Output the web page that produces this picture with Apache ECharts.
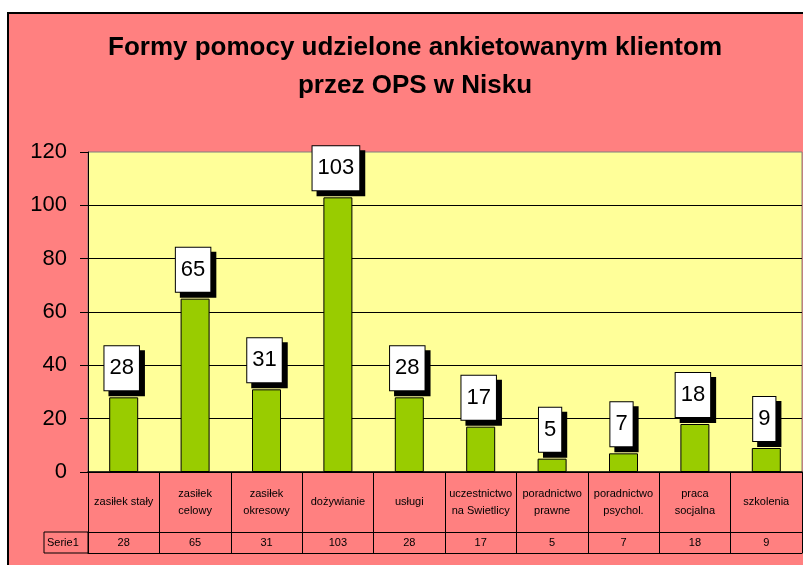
<!DOCTYPE html>
<html>
<head>
<meta charset="utf-8">
<script src="https://cdn.jsdelivr.net/npm/echarts@6/dist/echarts.min.js"></script>
<style>
  html, body { margin: 0; padding: 0; background: #fff; }
  #wrap { position: relative; width: 803px; height: 565px; overflow: hidden; }
  #frame {
    position: absolute; left: 7px; top: 12px; width: 810px; height: 570px;
    border-left: 2px solid #000; border-top: 2px solid #000; background: #FF8080;
  }
  #chart { position: absolute; left: 0; top: 0; width: 803px; height: 565px; }
</style>
</head>
<body>
<div id="wrap">
  <div id="frame"></div>
  <div id="chart"></div>
</div>
<script>
const categories = [
  'zasiłek stały', 'zasiłek\ncelowy', 'zasiłek\nokresowy', 'dożywianie', 'usługi',
  'uczestnictwo\nna Swietlicy', 'poradnictwo\nprawne', 'poradnictwo\npsychol.', 'praca\nsocjalna', 'szkolenia'
]
const values = [28, 65, 31, 103, 28, 17, 5, 7, 18, 9]
const seriesName = 'Serie1'
const yTicks = { min: 0, max: 120, interval: 20 }

const FONT = 'Arial, "Liberation Sans", sans-serif'
const GRID = { left: 88, right: 1, top: 152, bottom: 93 }

const chart = echarts.init(document.getElementById('chart'))

const option = {
  backgroundColor: 'transparent',
  animation: false,
  title: {
    text: 'Formy pomocy udzielone ankietowanym klientom\nprzez OPS w Nisku',
    left: 415,
    textAlign: 'center',
    top: 29,
    padding: 0,
    textStyle: {
      fontFamily: FONT,
      fontSize: 26,
      fontWeight: 'bold',
      lineHeight: 38,
      color: '#000'
    }
  },
  grid: {
    ...GRID,
    show: true,
    backgroundColor: '#FFFF99',
    borderColor: '#808080',
    borderWidth: 1
  },
  xAxis: [
    {
      type: 'category',
      data: categories,
      position: 'bottom',
      axisLine: { lineStyle: { color: '#000', width: 1.5 } },
      axisTick: { show: true, alignWithLabel: false, interval: 0, length: 81, lineStyle: { color: '#000', width: 1 } },
      axisLabel: {
        margin: 30,
        verticalAlign: 'middle',
        fontFamily: FONT,
        fontSize: 11,
        lineHeight: 17,
        color: '#000',
        interval: 0
      }
    },
    {
      type: 'category',
      data: values.map(String),
      position: 'bottom',
      offset: 60,
      axisLine: { lineStyle: { color: '#000', width: 1 } },
      axisTick: { show: false },
      axisLabel: {
        margin: 11,
        verticalAlign: 'middle',
        fontFamily: FONT,
        fontSize: 11,
        color: '#000',
        interval: 0
      }
    },
    {
      type: 'category',
      data: categories,
      position: 'bottom',
      offset: 81,
      axisLine: { lineStyle: { color: '#000', width: 1 } },
      axisTick: { show: false },
      axisLabel: { show: false }
    }
  ],
  yAxis: {
    type: 'value',
    ...yTicks,
    axisLine: { show: true, lineStyle: { color: '#000', width: 1 } },
    axisTick: { show: true, length: 8, lineStyle: { color: '#000' } },
    axisLabel: { margin: 21, fontFamily: FONT, fontSize: 22, color: '#000' },
    splitLine: { show: true, showMaxLine: false, lineStyle: { color: '#000', width: 1 } }
  },
  graphic: [
    {
      type: 'rect',
      shape: { x: 44, y: 565 - GRID.bottom + 60, width: GRID.left - 44, height: 21 },
      style: { fill: 'transparent', stroke: '#000', lineWidth: 1 },
      z: 10
    },
    {
      type: 'text',
      x: 47,
      y: 565 - GRID.bottom + 60 + 11,
      style: {
        text: seriesName,
        font: '11px ' + FONT,
        fill: '#000',
        verticalAlign: 'middle'
      },
      z: 10
    }
  ],
  series: [
    {
      name: seriesName,
      type: 'bar',
      data: values,
      barWidth: 29,
      itemStyle: { color: '#99CC00', borderColor: '#000', borderWidth: 1 },
      label: {
        show: true,
        position: 'top',
        distance: 7,
        offset: [-2, 0],
        fontFamily: FONT,
        fontSize: 22,
        lineHeight: 24,
        color: '#000',
        backgroundColor: '#fff',
        borderColor: '#000',
        borderWidth: 1,
        padding: [10, 5, 10, 5],
        shadowColor: '#000',
        shadowBlur: 0,
        shadowOffsetX: 5,
        shadowOffsetY: 5
      }
    }
  ]
}

chart.setOption(option)
</script>
</body>
</html>
